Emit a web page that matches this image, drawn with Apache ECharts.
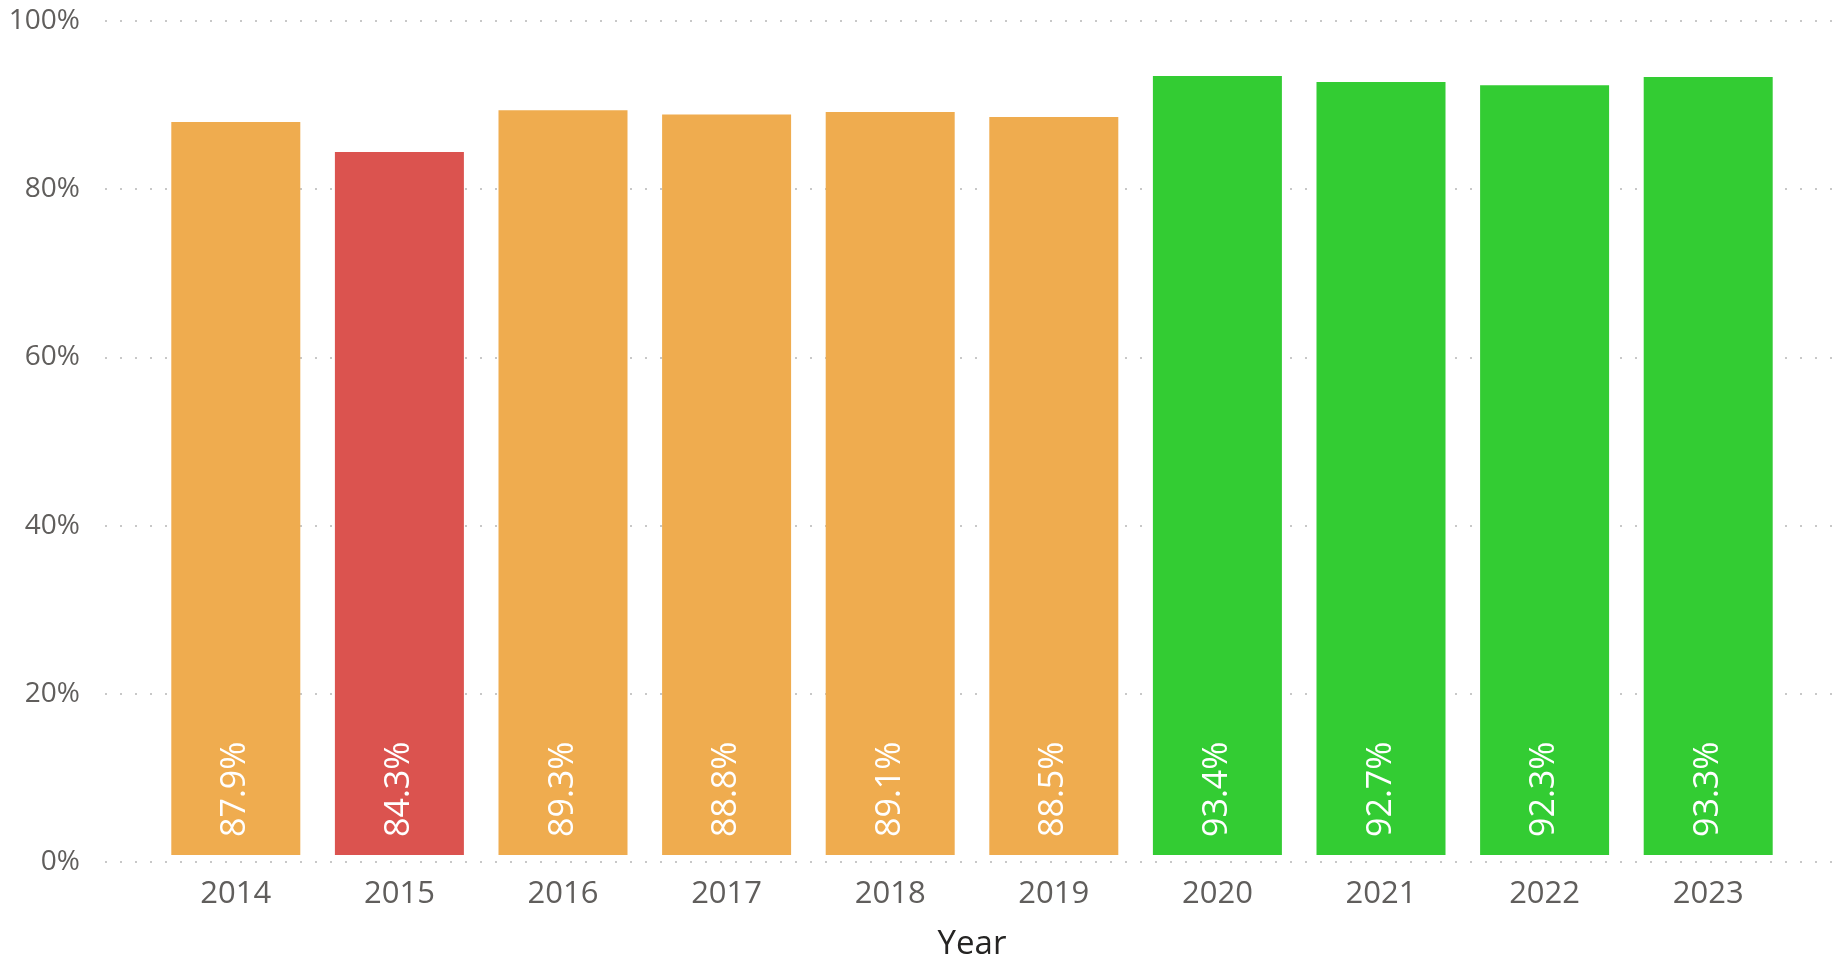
<!DOCTYPE html>
<html>
<head>
<meta charset="utf-8">
<script src="https://cdn.jsdelivr.net/npm/echarts@6/dist/echarts.min.js"></script>
<style>
  html, body { margin: 0; padding: 0; background: #fff; }
  #chart { width: 1832px; height: 966px; }
</style>
</head>
<body>
<div id="chart"></div>
<script>
// Data
const years = ['2014', '2015', '2016', '2017', '2018', '2019', '2020', '2021', '2022', '2023'];
const rates = [87.9, 84.3, 89.3, 88.8, 89.1, 88.5, 93.4, 92.7, 92.3, 93.3];
const yTicks = [0, 20, 40, 60, 80, 100];

// Colour bands
const colorLow = '#DB534F';
const colorMid = '#EFAC4F';
const colorHigh = '#33CC33';
const pickColor = (v) => v >= 90 ? colorHigh : (v < 85 ? colorLow : colorMid);

const chart = echarts.init(document.getElementById('chart'));
const font = '"Open Sans", "Noto Sans", sans-serif';

const option = {
    animation: false,
    textStyle: { fontFamily: font },
    grid: [
        // grid for the dotted gridlines and y labels
        { left: 105, right: 0, top: 21, bottom: 104 },
        // grid for the bars
        { left: 154, right: 42, top: 21, bottom: 104 }
    ],
    xAxis: [
        { type: 'value', gridIndex: 0, show: false, min: 0, max: 1 },
        {
            type: 'category',
            gridIndex: 1,
            data: years,
            axisLine: { show: false },
            axisTick: { show: false },
            axisLabel: { color: '#605E5C', fontSize: 31, margin: 24, fontFamily: font },
            name: 'Year',
            nameLocation: 'middle',
            nameGap: 73,
            nameTextStyle: { color: '#252423', fontSize: 33, fontFamily: font }
        }
    ],
    yAxis: [
        {
            type: 'value',
            gridIndex: 0,
            min: 0,
            max: 100,
            interval: 20,
            axisLine: { show: false },
            axisTick: { show: false },
            axisLabel: {
                color: '#605E5C',
                fontSize: 28,
                margin: 25,
                fontFamily: font,
                formatter: (v) => yTicks.includes(v) ? v + '%' : ''
            },
            splitLine: {
                lineStyle: { color: '#C8C8C8', width: 2, type: [2, 13] }
            }
        },
        { type: 'value', gridIndex: 1, min: 0, max: 100, show: false }
    ],
    series: [
        {
            type: 'bar',
            xAxisIndex: 1,
            yAxisIndex: 1,
            barWidth: 129,
            data: rates.map(v => ({ value: v, itemStyle: { color: pickColor(v) } })),
            label: {
                show: true,
                position: 'insideBottom',
                rotate: 90,
                align: 'left',
                verticalAlign: 'middle',
                distance: 18,
                color: '#ffffff',
                fontSize: 34,
                fontFamily: font,
                formatter: (p) => p.value.toFixed(1) + '%'
            }
        }
    ]
};

chart.setOption(option);
</script>
</body>
</html>
